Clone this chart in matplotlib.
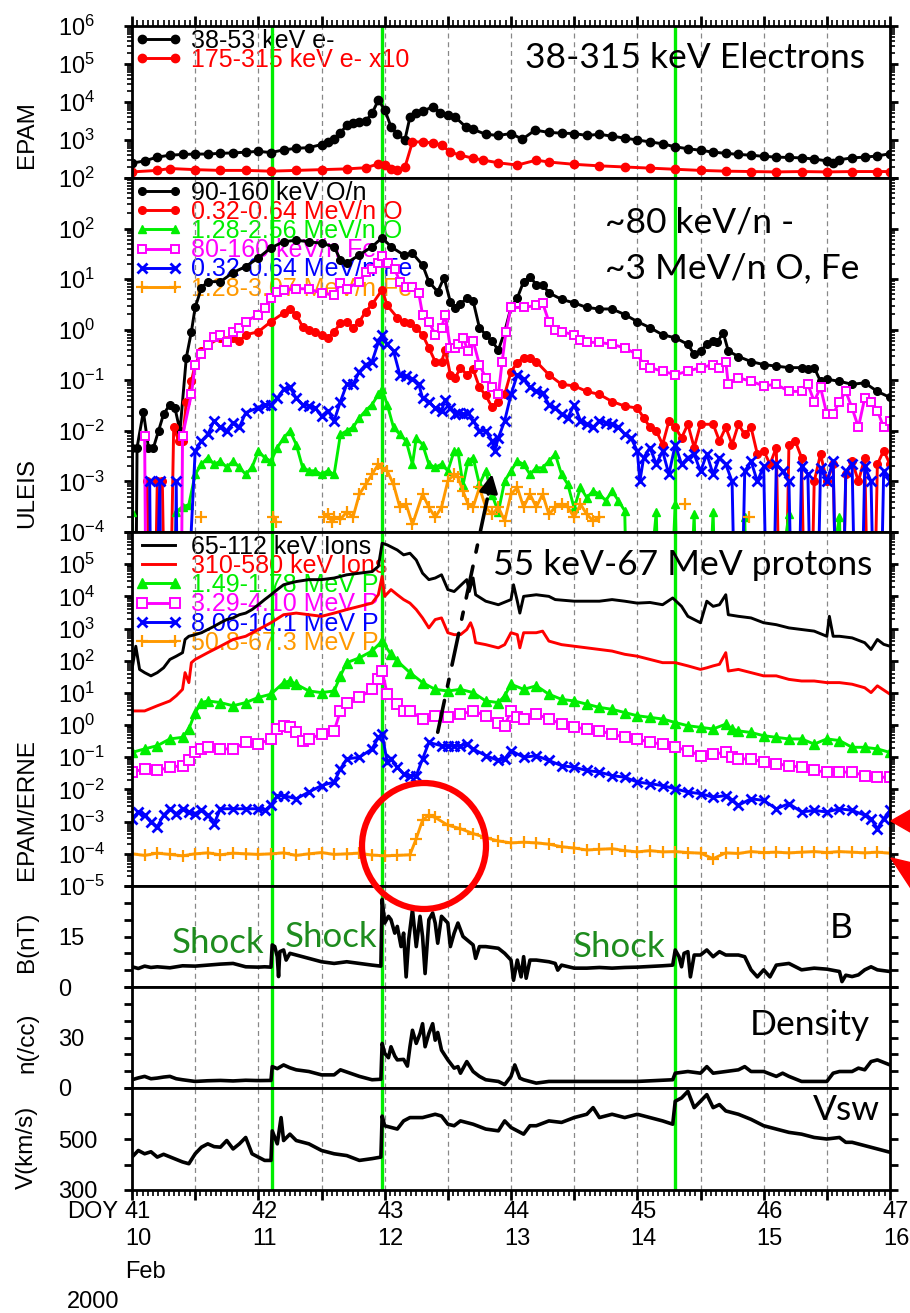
import numpy as np
import matplotlib
matplotlib.use("Agg")
import matplotlib.pyplot as plt
import matplotlib.transforms as mtransforms
from matplotlib.patches import Ellipse, Polygon, ConnectionPatch
from matplotlib.ticker import FixedLocator, FuncFormatter, NullFormatter, LogLocator, MultipleLocator

plt.rcParams['font.family'] = ['Liberation Sans', 'DejaVu Sans']
plt.rcParams['mathtext.fontset'] = 'custom'
plt.rcParams['mathtext.rm'] = 'Liberation Sans'
plt.rcParams['mathtext.it'] = 'Liberation Sans:italic'
plt.rcParams['mathtext.bf'] = 'Liberation Sans:bold'

nan = np.nan

# ---------------- EPAM electrons (log10 of flux) ----------------
t_e38 = [41.0, 41.1, 41.2, 41.3, 41.4, 41.5, 41.6, 41.7, 41.8, 41.9, 42.0, 42.1, 42.2, 42.3, 42.4,
         42.5, 42.55, 42.6, 42.65, 42.7, 42.75, 42.8, 42.85, 42.9, 42.95, 43.0, 43.05, 43.1, 43.16,
         43.2, 43.25, 43.3, 43.38, 43.44, 43.5, 43.56, 43.64, 43.7, 43.8, 43.9, 44.0, 44.09, 44.19,
         44.3, 44.4, 44.5, 44.6, 44.7, 44.8, 44.9, 45.0, 45.1, 45.2, 45.3, 45.4, 45.5, 45.6, 45.7,
         45.8, 45.9, 46.0, 46.1, 46.2, 46.3, 46.4, 46.5, 46.55, 46.6, 46.7, 46.8, 46.9, 47.0]
lg_e38 = [2.39, 2.45, 2.55, 2.6, 2.62, 2.63, 2.63, 2.65, 2.66, 2.68, 2.7, 2.67, 2.74, 2.78, 2.8,
          2.88, 2.95, 3.02, 3.18, 3.4, 3.45, 3.47, 3.5, 3.7, 4.05, 3.8, 3.35, 3.15, 3.0,
          3.6, 3.72, 3.76, 3.87, 3.72, 3.65, 3.6, 3.35, 3.28, 3.15, 3.12, 3.17, 3.02, 3.26,
          3.2, 3.18, 3.17, 3.12, 3.15, 3.1, 3.05, 3.0, 2.95, 2.9, 2.82, 2.77, 2.73, 2.68, 2.65,
          2.62, 2.6, 2.57, 2.55, 2.54, 2.53, 2.5, 2.45, 2.4, 2.48, 2.53, 2.55, 2.58, 2.64]

t_e175 = [41.0, 41.2, 41.3, 41.5, 41.7, 41.9, 42.1, 42.3, 42.5, 42.7, 42.85, 42.95, 43.0, 43.05,
          43.1, 43.16, 43.22, 43.3, 43.38, 43.45, 43.52, 43.6, 43.7, 43.78, 43.9, 44.05, 44.2,
          44.3, 44.5, 44.7, 44.9, 45.1, 45.3, 45.5, 45.7, 45.9, 46.1, 46.3, 46.5, 46.7, 46.9, 47.0]
lg_e175 = [2.16, 2.2, 2.25, 2.22, 2.2, 2.2, 2.18, 2.2, 2.22, 2.24, 2.27, 2.37, 2.35, 2.25,
           2.2, 2.28, 2.95, 2.95, 2.92, 2.87, 2.68, 2.6, 2.52, 2.47, 2.4, 2.34, 2.47,
           2.42, 2.36, 2.32, 2.29, 2.26, 2.23, 2.2, 2.18, 2.17, 2.16, 2.17, 2.16, 2.17, 2.17, 2.17]

# ---------------- ULEIS heavy ions (log10) ----------------
t_o90 = [41.0, 41.02, 41.04, 41.09, 41.13, 41.17, 41.21, 41.25, 41.3, 41.34, 41.38, 41.43, 41.47,
         41.5, 41.55, 41.6, 41.7, 41.8, 41.9, 42.0, 42.1, 42.2, 42.3, 42.4, 42.5, 42.6, 42.65,
         42.7, 42.8, 42.9, 42.98, 43.05, 43.15, 43.22, 43.3, 43.35, 43.42, 43.47, 43.52, 43.56,
         43.6, 43.65, 43.7, 43.75, 43.8, 43.85, 43.9, 43.95, 44.0, 44.05, 44.1, 44.15, 44.2, 44.25,
         44.3, 44.4, 44.5, 44.6, 44.7, 44.8, 44.9, 45.0, 45.1, 45.2, 45.3, 45.4, 45.45, 45.5,
         45.55, 45.6, 45.63, 45.68, 45.72, 45.8, 45.9, 46.0, 46.1, 46.2, 46.3, 46.35, 46.4,
         46.45, 46.5, 46.6, 46.7, 46.8, 46.9, 47.0]
lg_o90 = [-2.33, -9, -2.33, -1.62, -2.33, -2.33, -2.0, -1.67, -1.48, -1.55, -2.0, -0.55, -0.04,
          0.44, 0.83, 0.95, 0.95, 1.13, 1.25, 1.42, 1.62, 1.74, 1.77, 1.74, 1.71, 1.64, 1.38,
          1.32, 1.48, 1.64, 1.82, 1.64, 1.48, 1.51, 1.28, 0.95, 0.75, 1.03, 0.55, 0.42,
          0.5, 0.63, 0.57, 0.04, -0.1, -0.23, -0.4, -0.04, 0.44, 0.63, 0.95, 1.05, 0.89, 0.89,
          0.73, 0.6, 0.53, 0.44, 0.41, 0.41, 0.3, 0.16, 0.04, -0.1, -0.16, -0.29, -0.49, -0.42,
          -0.29, -0.22, -0.25, -0.06, -0.42, -0.53, -0.63, -0.69, -0.72, -0.75, -0.75, -0.78, -0.75,
          -1.02, -0.98, -1.02, -1.08, -1.05, -1.22, -1.34]

t_o320 = [41.12, 41.16, 41.2, 41.24, 41.28, 41.33, 41.37, 41.4, 41.43, 41.47, 41.5, 41.55, 41.6,
          41.7, 41.8, 41.85, 41.9, 42.0, 42.1, 42.2, 42.25, 42.3, 42.35, 42.4, 42.45, 42.5, 42.55,
          42.6, 42.65, 42.7, 42.75, 42.8, 42.85, 42.9, 42.98, 43.02, 43.1, 43.15, 43.2, 43.25,
          43.3, 43.35, 43.4, 43.45, 43.48, 43.52, 43.56, 43.6, 43.65, 43.7, 43.75, 43.8, 43.85,
          43.9, 43.95, 44.0, 44.05, 44.1, 44.15, 44.2, 44.3, 44.4, 44.5, 44.6, 44.7, 44.8, 44.9,
          45.0, 45.05, 45.1, 45.15, 45.2, 45.25, 45.3, 45.35, 45.4, 45.45, 45.5, 45.6, 45.65,
          45.7, 45.75, 45.8, 45.85, 45.9, 45.95, 46.0, 46.05, 46.1, 46.15, 46.2, 46.25, 46.3,
          46.35, 46.4, 46.45, 46.5, 46.55, 46.6, 46.65, 46.7, 46.75, 46.8, 46.85, 46.9, 46.95, 47.0]
lg_o320 = [-3.0, -9, -3.0, -3.0, -9, -1.93, -2.2, -2.2, -1.42, -1.02, -0.69, -0.43, -0.3,
           -0.16, -0.16, -0.23, -0.1, -0.04, 0.16, 0.33, 0.4, 0.3, 0.06, 0.0, -0.04, -0.1, -0.16,
           -0.04, 0.13, 0.16, 0.04, 0.16, 0.36, 0.5, 0.79, 0.48, 0.24, 0.16, 0.13, 0.04,
           -0.1, -0.36, -0.63, -0.63, -0.4, -0.89, -0.95, -0.75, -0.89, -0.78, -1.14, -1.3, -1.53,
           -1.42, -1.28, -0.83, -0.65, -0.55, -0.55, -0.63, -0.89, -1.08, -1.11, -1.22, -1.28, -1.42, -1.51,
           -1.55, -1.74, -1.93, -2.0, -2.27, -1.81, -1.93, -2.14, -1.87, -2.33, -1.87, -1.87, -2.2,
           -1.93, -2.27, -1.87, -2.07, -1.93, -2.46, -2.39, -2.66, -2.33, -9, -2.27, -2.2, -2.53,
           -9, -3.0, -2.46, -3.0, -2.66, -9, -2.86, -2.6, -3.0, -2.53, -9, -2.66, -2.39, -2.66]

t_o1280 = [41.0, 41.02, 41.3, 41.35, 41.4, 41.45, 41.5, 41.55, 41.6, 41.65, 41.7, 41.75, 41.8,
           41.85, 41.9, 41.95, 42.0, 42.05, 42.1, 42.15, 42.2, 42.25, 42.3, 42.35, 42.4, 42.45,
           42.5, 42.55, 42.6, 42.65, 42.7, 42.75, 42.8, 42.85, 42.9, 42.95, 42.98, 43.02, 43.07,
           43.12, 43.17, 43.22, 43.25, 43.3, 43.35, 43.4, 43.45, 43.5, 43.55, 43.58, 43.62, 43.66,
           43.7, 43.75, 43.8, 43.85, 43.9, 43.95, 44.0, 44.05, 44.1, 44.15, 44.2, 44.25, 44.3,
           44.35, 44.4, 44.45, 44.5, 44.55, 44.6, 44.65, 44.7, 44.75, 44.8, 44.85, 44.9, 44.95,
           45.15, 45.2, 45.3, 45.35, 45.45, 45.5, 45.6, 45.65, 45.85, 45.9, 46.2, 46.25, 46.6, 46.65]
lg_o1280 = [-3.6, -9, -9, -3.6, -3.5, -3.46, -2.86, -2.66, -2.53, -2.66, -2.6, -2.72, -2.6,
            -2.72, -2.86, -2.72, -2.4, -2.53, -2.6, -2.33, -2.14, -2.0, -2.27, -2.72, -2.79, -2.79,
            -2.86, -2.79, -2.86, -2.07, -2.0, -1.93, -1.74, -1.6, -1.48, -1.28, -1.18, -1.48, -1.93,
            -2.07, -2.2, -2.66, -2.14, -2.27, -2.66, -2.72, -2.66, -2.79, -2.4, -2.4, -3.07, -2.6,
            -2.53, -3.06, -2.79, -3.27, -3.6, -2.99, -2.79, -2.6, -2.66, -2.86, -2.73, -2.73, -2.6,
            -2.46, -2.86, -3.06, -3.53, -3.12, -3.32, -3.19, -3.25, -3.38, -3.19, -3.38, -3.58, -9,
            -3.6, -9, -3.45, -9, -3.65, -9, -3.6, -9, -3.7, -9, -3.65, -9, -3.7, -9]

t_fe80 = [41.1, 41.12, 41.38, 41.4, 41.47, 41.5, 41.55, 41.6, 41.65, 41.7, 41.75, 41.8, 41.85,
          41.9, 42.0, 42.05, 42.1, 42.15, 42.2, 42.3, 42.4, 42.5, 42.6, 42.65, 42.7, 42.8, 42.85,
          42.9, 42.95, 42.98, 43.03, 43.08, 43.12, 43.17, 43.22, 43.27, 43.3, 43.35, 43.4, 43.45,
          43.48, 43.52, 43.56, 43.58, 43.62, 43.66, 43.7, 43.75, 43.8, 43.85, 43.9, 43.93, 43.96,
          44.0, 44.1, 44.2, 44.25, 44.3, 44.35, 44.4, 44.5, 44.55, 44.6, 44.7, 44.8, 44.9, 45.0,
          45.05, 45.1, 45.2, 45.3, 45.4, 45.5, 45.6, 45.65, 45.7, 45.72, 45.8, 45.9, 46.0, 46.1,
          46.2, 46.3, 46.35, 46.4, 46.45, 46.5, 46.55, 46.6, 46.65, 46.7, 46.75, 46.8, 46.85,
          46.9, 46.95, 47.0]
lg_fe80 = [-2.1, -9, -9, -2.1, -1.28, -0.69, -0.49, -0.3, -0.14, -0.1, -0.25, -0.04, 0.04,
           0.16, 0.3, 0.42, 0.63, 0.75, 0.78, 0.81, 0.81, 0.72, 0.69, 0.92, 0.81, 0.95, 1.15,
           1.2, 1.32, 1.45, 1.32, 1.2, 0.95, 0.85, 0.85, 0.72, 0.3, 0.16, -0.1, 0.04,
           0.3, -0.36, -0.36, -0.29, -0.16, -0.42, -0.22, -0.69, -0.95, -1.14, -1.28, -0.63, -0.04,
           0.44, 0.44, 0.48, 0.53, 0.16, 0.0, -0.04, -0.1, -0.2, -0.25, -0.25, -0.29, -0.36, -0.49,
           -0.69, -0.75, -0.82, -0.89, -0.82, -0.75, -0.69, -0.75, -0.63, -1.08, -0.95, -1.02, -1.11, -1.08,
           -1.22, -1.22, -1.08, -1.42, -1.14, -1.67, -1.67, -1.42, -1.22, -1.55, -1.93, -1.35, -1.42,
           -1.6, -1.93, -1.81]

t_fe320 = [41.14, 41.16, 41.22, 41.24, 41.33, 41.35, 41.37, 41.5, 41.55, 41.6, 41.65, 41.7, 41.75,
           41.8, 41.85, 41.9, 42.0, 42.05, 42.1, 42.15, 42.2, 42.25, 42.3, 42.35, 42.4, 42.45,
           42.5, 42.55, 42.6, 42.65, 42.7, 42.75, 42.8, 42.85, 42.9, 42.95, 42.98, 43.02, 43.07,
           43.12, 43.17, 43.22, 43.27, 43.3, 43.35, 43.4, 43.45, 43.48, 43.52, 43.56, 43.58, 43.62,
           43.66, 43.7, 43.75, 43.8, 43.85, 43.87, 43.9, 43.95, 44.0, 44.05, 44.1, 44.15, 44.2,
           44.25, 44.3, 44.35, 44.4, 44.45, 44.5, 44.55, 44.6, 44.65, 44.7, 44.75, 44.8, 44.85,
           44.9, 44.95, 45.0, 45.02, 45.05, 45.1, 45.15, 45.2, 45.25, 45.3, 45.35, 45.4, 45.45,
           45.5, 45.55, 45.6, 45.65, 45.7, 45.75, 45.8, 45.85, 45.9, 45.95, 46.0, 46.05, 46.1,
           46.15, 46.2, 46.25, 46.3, 46.35, 46.4, 46.45, 46.5, 46.55, 46.6, 46.65, 46.7, 46.75,
           46.8, 46.85, 46.9, 46.95, 47.0]
lg_fe320 = [-3.0, -9, -3.0, -9, -9, -3.0, -9, -2.4, -2.2, -2.07, -1.8, -1.93, -2.0,
            -1.84, -1.93, -1.64, -1.54, -1.48, -1.48, -1.35, -1.18, -1.14, -1.35, -1.48, -1.5, -1.54,
            -1.71, -1.6, -1.8, -1.42, -1.08, -1.08, -0.83, -0.69, -0.63, -0.25, -0.1, -0.29, -0.42,
            -0.89, -0.92, -0.98, -1.08, -1.35, -1.42, -1.55, -1.6, -1.38, -1.55, -1.67, -1.64, -1.67,
            -1.64, -1.8, -2.0, -2.0, -2.2, -2.4, -2.14, -1.8, -1.28, -0.89, -0.98, -1.14, -1.22,
            -1.25, -1.48, -1.55, -1.67, -1.74, -1.48, -1.8, -1.87, -1.93, -1.8, -1.84, -1.87, -1.93,
            -2.07, -2.14, -2.4, -3.0, -2.53, -2.33, -2.66, -2.4, -2.86, -2.27, -2.66, -2.53, -2.46,
            -2.8, -2.46, -2.86, -2.53, -2.66, -3.0, -9, -2.8, -2.6, -3.0, -2.7, -9, -2.66,
            -2.8, -3.0, -9, -2.7, -2.86, -9, -2.73, -3.0, -2.6, -9, -2.8, -2.66, -9,
            -2.7, -3.0, -9, -2.8, -3.0]

t_fe1280 = [41.55, 41.57, 42.12, 42.14, 42.16, 42.52, 42.55, 42.58, 42.6, 42.65, 42.7, 42.75, 42.8,
            42.85, 42.9, 42.95, 42.98, 43.02, 43.07, 43.12, 43.17, 43.22, 43.3, 43.35, 43.4, 43.45,
            43.5, 43.55, 43.58, 43.62, 43.66, 43.7, 43.75, 43.8, 43.85, 43.9, 43.95, 44.0, 44.05,
            44.1, 44.15, 44.2, 44.25, 44.3, 44.35, 44.4, 44.45, 44.5, 44.55, 44.6, 44.65, 44.7,
            44.72, 45.38, 45.4, 45.88, 45.9]
lg_fe1280 = [-3.7, nan, -3.7, -3.8, nan, -3.7, -3.65, -3.8, -3.7, -3.75, -3.6, -3.7, -3.25,
             -3.06, -2.86, -2.66, -2.73, -2.79, -3.06, -3.51, -3.45, -3.85, -3.25, -3.51, -3.71, -3.51,
             -2.99, -2.86, -2.92, -3.19, -3.45, -3.51, -3.12, -3.51, -3.65, -3.51, -3.78, -3.25, -3.12,
             -3.51, -3.25, -3.51, -3.25, -3.65, -3.51, -3.45, -3.51, -3.71, -3.45, -3.65, -3.78, -3.71,
             nan, -3.45, nan, -3.7, nan]

# ---------------- EPAM / ERNE ions and protons (log10) ----------------
t_ion65 = [41.0, 41.03, 41.06, 41.1, 41.15, 41.2, 41.25, 41.3, 41.35, 41.4, 41.42, 41.45, 41.5,
           41.55, 41.6, 41.65, 41.7, 41.75, 41.8, 41.85, 41.9, 41.95, 42.0, 42.05, 42.1, 42.15,
           42.2, 42.3, 42.4, 42.5, 42.6, 42.7, 42.8, 42.9, 42.95, 42.98, 43.02, 43.1, 43.15, 43.2,
           43.25, 43.3, 43.35, 43.4, 43.45, 43.5, 43.55, 43.58, 43.62, 43.65, 43.67, 43.7, 43.72,
           43.8, 43.9, 44.0, 44.02, 44.05, 44.07, 44.1, 44.2, 44.3, 44.35, 44.5, 44.7, 44.8, 44.9,
           45.0, 45.1, 45.2, 45.28, 45.35, 45.4, 45.45, 45.5, 45.55, 45.6, 45.65, 45.7, 45.72,
           45.8, 45.9, 46.0, 46.1, 46.2, 46.3, 46.4, 46.5, 46.52, 46.55, 46.6, 46.7, 46.8, 46.85,
           46.9, 46.95, 47.0]
lg_ion65 = [1.73, 2.45, 1.73, 1.63, 1.53, 1.63, 1.78, 2.04, 2.14, 2.25, 2.66, 2.76, 2.81,
            2.87, 2.97, 3.07, 3.18, 3.28, 3.33, 3.43, 3.48, 3.59, 3.74, 3.9, 4.05, 4.21,
            4.36, 4.46, 4.52, 4.52, 4.57, 4.67, 4.72, 4.77, 4.93, 5.65, 5.6, 5.44, 5.29, 5.34,
            5.13, 4.72, 4.52, 4.57, 4.67, 4.21, 4.15, 4.26, 4.41, 4.52, 4.15, 4.57, 4.05,
            3.85, 3.74, 3.9, 4.36, 3.85, 3.48, 4.0, 4.05, 4.0, 3.9, 3.85, 3.85, 3.9, 3.85,
            3.79, 3.81, 3.74, 3.95, 3.69, 3.38, 3.28, 3.18, 3.85, 3.69, 3.74, 4.05, 3.43,
            3.38, 3.33, 3.18, 3.12, 3.02, 2.97, 2.92, 2.76, 3.38, 2.76, 2.76, 2.71, 2.56, 2.35,
            2.66, 2.51, 2.45]

t_ion310 = [41.0, 41.1, 41.2, 41.3, 41.35, 41.4, 41.42, 41.45, 41.47, 41.5, 41.6, 41.7, 41.8,
            41.9, 42.0, 42.1, 42.2, 42.3, 42.4, 42.5, 42.6, 42.7, 42.8, 42.9, 42.95, 42.98, 43.0,
            43.05, 43.1, 43.15, 43.2, 43.25, 43.3, 43.35, 43.4, 43.45, 43.5, 43.55, 43.6, 43.65,
            43.68, 43.7, 43.72, 43.8, 43.9, 43.95, 44.0, 44.05, 44.07, 44.1, 44.2, 44.25, 44.3,
            44.4, 44.5, 44.6, 44.7, 44.8, 44.9, 45.0, 45.1, 45.2, 45.3, 45.4, 45.5, 45.55, 45.6,
            45.65, 45.7, 45.72, 45.8, 45.9, 46.0, 46.1, 46.2, 46.3, 46.4, 46.5, 46.6, 46.7, 46.8,
            46.85, 46.9, 47.0]
lg_ion310 = [0.44, 0.44, 0.6, 0.75, 0.91, 1.11, 1.63, 1.32, 1.94, 2.04, 2.25, 2.45, 2.66,
             2.76, 2.97, 3.18, 3.43, 3.48, 3.43, 3.38, 3.48, 3.59, 3.69, 3.79, 4.05, 4.62, 4.0,
             4.21, 4.05, 3.9, 3.79, 3.59, 3.33, 3.02, 3.28, 3.33, 2.87, 2.81, 2.81, 2.97,
             3.18, 2.97, 2.56, 2.5, 2.4, 2.5, 2.87, 2.81, 2.4, 2.87, 2.87, 2.92, 2.61,
             2.5, 2.45, 2.4, 2.35, 2.3, 2.2, 2.14, 2.04, 1.94, 1.94, 1.84, 1.73, 1.78, 1.84,
             1.89, 2.25, 1.68, 1.73, 1.63, 1.53, 1.53, 1.42, 1.37, 1.37, 1.32, 1.32, 1.27, 1.16,
             1.01, 1.22, 0.96]

t_p1490 = [41.0, 41.1, 41.2, 41.3, 41.4, 41.45, 41.5, 41.55, 41.6, 41.7, 41.8, 41.9, 42.0, 42.1,
           42.2, 42.25, 42.3, 42.4, 42.5, 42.6, 42.65, 42.7, 42.8, 42.9, 42.98, 43.05, 43.1, 43.2,
           43.3, 43.4, 43.5, 43.6, 43.7, 43.8, 43.9, 43.95, 44.0, 44.1, 44.2, 44.3, 44.4, 44.5,
           44.6, 44.7, 44.8, 44.9, 45.0, 45.1, 45.2, 45.3, 45.4, 45.5, 45.6, 45.7, 45.75, 45.8,
           45.9, 46.0, 46.1, 46.2, 46.3, 46.4, 46.5, 46.6, 46.7, 46.8, 46.9, 47.0]
lg_p1490 = [-0.85, -0.74, -0.64, -0.43, -0.38, -0.12, 0.39, 0.7, 0.75, 0.7, 0.6, 0.7, 0.86, 0.96,
            1.32, 1.37, 1.27, 1.06, 1.01, 1.06, 1.53, 1.94, 2.09, 2.3, 2.61, 2.2, 1.99, 1.63,
            1.32, 1.11, 1.06, 1.11, 1.01, 0.75, 0.7, 0.91, 1.27, 1.11, 1.22, 0.96, 0.8, 0.75,
            0.65, 0.55, 0.49, 0.39, 0.29, 0.24, 0.19, 0.08, -0.02, -0.07, -0.12, 0.03, -0.12, -0.18,
            -0.23, -0.33, -0.38, -0.43, -0.43, -0.59, -0.43, -0.48, -0.69, -0.69, -0.74, -0.85]

t_p3290 = [41.0, 41.1, 41.2, 41.3, 41.4, 41.45, 41.5, 41.55, 41.6, 41.7, 41.8, 41.9, 42.0, 42.1,
           42.15, 42.2, 42.25, 42.3, 42.35, 42.4, 42.5, 42.6, 42.65, 42.7, 42.8, 42.9, 42.95,
           42.98, 43.02, 43.1, 43.15, 43.2, 43.3, 43.4, 43.5, 43.6, 43.7, 43.8, 43.9, 43.95, 44.0,
           44.05, 44.1, 44.2, 44.3, 44.4, 44.5, 44.6, 44.7, 44.8, 44.9, 45.0, 45.1, 45.2, 45.3,
           45.4, 45.5, 45.6, 45.7, 45.75, 45.8, 45.9, 46.0, 46.1, 46.2, 46.3, 46.4, 46.5, 46.6,
           46.7, 46.8, 46.9, 47.0]
lg_p3290 = [-1.46, -1.36, -1.41, -1.31, -1.26, -1.1, -0.85, -0.74, -0.69, -0.74, -0.74, -0.54, -0.59, -0.43,
            -0.12, -0.02, -0.07, -0.23, -0.48, -0.43, -0.28, -0.18, 0.44, 0.7, 0.86, 1.11, 1.42,
            1.68, 0.96, 0.65, 0.44, 0.44, 0.19, 0.29, 0.24, 0.34, 0.44, 0.29, 0.08, -0.02, 0.44,
            0.24, 0.19, 0.34, 0.19, 0.03, -0.07, -0.12, -0.18, -0.28, -0.38, -0.43, -0.54, -0.59, -0.69,
            -0.79, -0.95, -0.9, -0.85, -1.0, -1.05, -1.05, -1.15, -1.2, -1.26, -1.31, -1.41, -1.46, -1.46,
            -1.46, -1.57, -1.62, -1.62]

t_p8060 = [41.0, 41.05, 41.1, 41.15, 41.2, 41.25, 41.3, 41.35, 41.4, 41.45, 41.5, 41.55, 41.6,
           41.65, 41.7, 41.8, 41.9, 42.0, 42.05, 42.1, 42.15, 42.2, 42.3, 42.4, 42.5, 42.6, 42.65,
           42.7, 42.8, 42.9, 42.95, 42.98, 43.02, 43.05, 43.1, 43.15, 43.2, 43.25, 43.3, 43.35,
           43.45, 43.5, 43.55, 43.6, 43.65, 43.7, 43.8, 43.9, 43.95, 44.0, 44.1, 44.2, 44.3, 44.4,
           44.5, 44.6, 44.7, 44.8, 44.9, 45.0, 45.1, 45.2, 45.3, 45.4, 45.5, 45.6, 45.7, 45.75,
           45.8, 45.9, 46.0, 46.1, 46.2, 46.3, 46.4, 46.5, 46.6, 46.7, 46.8, 46.85, 46.9, 46.95, 47.0]
lg_p8060 = [-2.91, -2.7, -2.8, -3.01, -3.16, -2.8, -2.6, -2.75, -2.6, -2.7, -2.75, -2.65, -2.8,
            -3.06, -2.6, -2.6, -2.6, -2.6, -2.65, -2.49, -2.19, -2.19, -2.29, -2.08, -1.88, -1.77, -1.36,
            -1.05, -1.0, -0.74, -0.38, -0.28, -1.15, -1.05, -1.31, -1.52, -1.57, -1.57, -1.05, -0.54,
            -0.64, -0.64, -0.64, -0.64, -0.59, -0.74, -0.95, -1.1, -1.05, -0.79, -1.0, -0.95, -1.1, -1.26,
            -1.31, -1.41, -1.46, -1.57, -1.62, -1.77, -1.82, -1.88, -1.98, -2.08, -2.13, -2.24, -2.19, -2.34,
            -2.49, -2.29, -2.34, -2.6, -2.44, -2.7, -2.65, -2.7, -2.6, -2.65, -2.8, -2.91, -3.22, -2.91, -2.65]

t_p50800 = [41.0, 41.1, 41.2, 41.3, 41.4, 41.5, 41.6, 41.7, 41.8, 41.9, 42.0, 42.1, 42.2, 42.3,
            42.4, 42.5, 42.6, 42.7, 42.8, 42.9, 43.0, 43.1, 43.2, 43.25, 43.3, 43.35, 43.4, 43.5,
            43.6, 43.7, 43.8, 43.9, 44.0, 44.1, 44.2, 44.3, 44.4, 44.5, 44.6, 44.7, 44.8, 44.9,
            45.0, 45.1, 45.2, 45.3, 45.4, 45.5, 45.6, 45.7, 45.8, 45.9, 46.0, 46.1, 46.2, 46.3,
            46.4, 46.5, 46.6, 46.7, 46.8, 46.9, 47.0]
lg_p50800 = [-4.0, -4.05, -3.98, -4.02, -4.06, -4.0, -3.97, -4.03, -3.98, -4.0, -4.02, -4.0, -3.97, -4.05,
             -4.0, -3.96, -4.02, -4.0, -3.98, -4.04, -4.06, -4.05, -4.03, -3.53, -2.95, -2.8, -2.87, -3.11,
             -3.22, -3.37, -3.5, -3.6, -3.66, -3.64, -3.66, -3.7, -3.78, -3.82, -3.88, -3.86, -3.84, -3.9,
             -3.94, -3.9, -3.94, -3.93, -3.96, -3.98, -4.15, -3.97, -3.99, -3.93, -3.96, -3.95, -3.97, -3.95,
             -3.93, -3.96, -3.93, -3.95, -3.97, -3.95, -3.98]

# ---------------- solar wind ----------------
t_b = [41.0, 41.05, 41.1, 41.15, 41.2, 41.3, 41.4, 41.5, 41.6, 41.7, 41.8, 41.85, 41.9, 42.0, 42.05,
       42.1, 42.11, 42.13, 42.15, 42.16, 42.17, 42.2, 42.22, 42.25, 42.3, 42.4, 42.5, 42.6, 42.7,
       42.8, 42.9, 42.97, 42.98, 43.0, 43.03, 43.05, 43.08, 43.1, 43.13, 43.15, 43.17, 43.19, 43.2,
       43.22, 43.25, 43.28, 43.3, 43.32, 43.35, 43.38, 43.4, 43.42, 43.45, 43.5, 43.52, 43.55,
       43.58, 43.62, 43.7, 43.72, 43.75, 43.8, 43.9, 43.95, 44.0, 44.02, 44.05, 44.08, 44.1, 44.12,
       44.15, 44.2, 44.3, 44.35, 44.37, 44.4, 44.5, 44.6, 44.7, 44.8, 44.9, 45.0, 45.1, 45.2, 45.28,
       45.3, 45.33, 45.35, 45.37, 45.4, 45.42, 45.45, 45.5, 45.55, 45.6, 45.65, 45.7, 45.8, 45.85,
       45.9, 45.95, 46.0, 46.05, 46.1, 46.2, 46.3, 46.4, 46.5, 46.6, 46.62, 46.65, 46.7, 46.75,
       46.8, 46.85, 46.9, 47.0]
b_nt = [6.0, 5.5, 6.2, 5.8, 6.0, 5.7, 6.3, 6.2, 6.5, 6.8, 7.0, 6.5, 6.0, 5.9, 6.0,
        5.9, 12.5, 12.0, 9.0, 3.1, 10.5, 11.0, 8.0, 10.0, 9.5, 8.5, 7.5, 7.0, 7.5,
        7.0, 6.5, 6.2, 26.0, 19.0, 21.0, 20.0, 16.0, 18.0, 12.0, 16.0, 3.0, 14.0, 17.0,
        23.0, 12.0, 21.0, 15.0, 4.0, 20.0, 22.0, 19.0, 13.0, 21.0, 19.0, 12.0, 16.0,
        19.0, 15.0, 12.5, 8.5, 12.0, 12.0, 11.5, 10.0, 8.0, 2.0, 8.0, 3.0, 9.0, 2.6,
        8.0, 8.0, 7.5, 7.0, 5.0, 6.5, 5.6, 5.6, 5.8, 5.6, 5.8, 5.9, 6.1, 6.3, 6.5,
        11.0, 9.0, 6.0, 10.0, 10.5, 3.0, 9.5, 9.5, 11.0, 9.0, 10.5, 9.5, 9.5, 9.0,
        5.1, 3.0, 5.1, 3.0, 6.5, 7.0, 5.1, 5.6, 5.3, 4.6, 1.6, 3.5, 3.1, 3.6,
        5.1, 6.0, 5.1, 4.6]

t_n = [41.0, 41.05, 41.1, 41.15, 41.2, 41.25, 41.3, 41.35, 41.4, 41.5, 41.6, 41.7, 41.8, 41.9, 42.0,
       42.1, 42.11, 42.15, 42.2, 42.25, 42.3, 42.4, 42.5, 42.6, 42.65, 42.7, 42.8, 42.9, 42.97,
       42.98, 43.0, 43.03, 43.05, 43.08, 43.1, 43.15, 43.18, 43.2, 43.22, 43.25, 43.28, 43.3,
       43.32, 43.35, 43.38, 43.4, 43.42, 43.45, 43.5, 43.55, 43.58, 43.6, 43.65, 43.7, 43.75,
       43.8, 43.9, 43.95, 44.0, 44.03, 44.07, 44.1, 44.2, 44.3, 44.5, 44.7, 45.0, 45.28, 45.3,
       45.4, 45.5, 45.55, 45.6, 45.7, 45.8, 45.85, 45.9, 46.0, 46.1, 46.15, 46.2, 46.3, 46.4,
       46.5, 46.55, 46.6, 46.7, 46.75, 46.8, 46.85, 46.9, 47.0]
n_cc = [4.9, 6.0, 6.9, 5.5, 5.9, 6.5, 6.9, 5.5, 4.9, 3.9, 4.3, 4.5, 4.2, 4.6, 4.4,
        4.5, 12.7, 11.5, 13.7, 12.0, 10.8, 9.8, 7.8, 7.8, 10.8, 9.5, 6.9, 4.9, 5.2,
        26.5, 20.6, 18.0, 24.5, 19.0, 16.7, 17.0, 13.0, 24.5, 34.3, 26.5, 32.4, 38.2,
        24.5, 32.4, 38.2, 28.4, 33.0, 22.5, 16.7, 11.8, 12.7, 8.8, 15.7, 9.8, 6.9,
        4.9, 3.9, 2.0, 6.9, 13.7, 5.9, 4.9, 2.9, 3.9, 3.9, 3.9, 3.9, 4.9, 8.8,
        9.8, 8.8, 12.7, 8.8, 9.8, 10.8, 12.7, 9.8, 9.8, 6.9, 8.8, 6.9, 3.9, 3.9,
        3.9, 8.8, 9.8, 9.8, 11.8, 10.8, 15.7, 16.7, 13.7]

t_v = [41.0, 41.05, 41.1, 41.15, 41.2, 41.25, 41.3, 41.35, 41.4, 41.45, 41.5, 41.55, 41.6, 41.65,
       41.7, 41.75, 41.8, 41.85, 41.9, 41.95, 42.0, 42.05, 42.1, 42.11, 42.15, 42.18, 42.2, 42.25,
       42.3, 42.4, 42.5, 42.6, 42.7, 42.8, 42.9, 42.97, 42.98, 43.0, 43.1, 43.15, 43.2, 43.3,
       43.4, 43.45, 43.5, 43.55, 43.6, 43.7, 43.8, 43.9, 43.95, 44.0, 44.1, 44.15, 44.2, 44.3,
       44.4, 44.5, 44.6, 44.65, 44.7, 44.8, 44.9, 45.0, 45.1, 45.2, 45.28, 45.3, 45.35, 45.4,
       45.45, 45.5, 45.55, 45.6, 45.65, 45.7, 45.8, 45.9, 46.0, 46.1, 46.2, 46.3, 46.4, 46.5,
       46.6, 46.65, 46.7, 46.8, 46.9, 47.0]
v_sw = [429, 455, 442, 450, 429, 440, 430, 420, 410, 403, 442, 468, 481, 470,
        468, 494, 461, 481, 506, 442, 429, 416, 416, 532, 481, 584, 494, 519,
        494, 481, 455, 442, 435, 416, 423, 429, 590, 552, 539, 571, 584, 584,
        597, 590, 558, 552, 571, 558, 539, 532, 571, 545, 519, 552, 552, 571,
        565, 584, 597, 623, 584, 597, 584, 597, 584, 571, 558, 648, 661, 687,
        623, 648, 674, 623, 635, 610, 597, 577, 552, 539, 526, 519, 506, 500,
        506, 487, 487, 474, 461, 448]

shock_doy = [42.11, 42.98, 45.30]

W, H = 910, 1313


def px(x, y):
    return (x / W, 1 - y / H)


fig = plt.figure(figsize=(W / 100, H / 100), dpi=100)
gs = fig.add_gridspec(6, 1, height_ratios=[152, 354, 354, 101, 101, 102], hspace=0,
                      left=132 / W, right=890 / W, top=1 - 26 / H, bottom=1 - 1190 / H)
axs = [fig.add_subplot(gs[0])]
for i in range(1, 6):
    axs.append(fig.add_subplot(gs[i], sharex=axs[0]))

TICKFS = 17
LEGFS = 18
LABEL_PAD = 47


def log_axis(ax, lo, hi, hide_top):
    ax.set_yscale('log')
    ax.set_ylim(10.0 ** lo, 10.0 ** hi)
    ax.yaxis.set_major_locator(FixedLocator([10.0 ** k for k in range(lo, hi + 1)]))
    ax.yaxis.set_minor_locator(LogLocator(base=10, subs=np.arange(2, 10), numticks=100))
    ax.yaxis.set_minor_formatter(NullFormatter())

    def fmt(v, p):
        k = int(round(np.log10(v)))
        if hide_top and k == hi:
            return ''
        return r'$10^{%d}$' % k
    ax.yaxis.set_major_formatter(FuncFormatter(fmt))
    ax.tick_params(axis='y', which='major', length=6, width=2)
    ax.tick_params(axis='y', which='minor', length=3.5, width=1.2)


def lin_axis(ax, lo, hi, labels, step):
    ax.set_ylim(lo, hi)
    ax.yaxis.set_major_locator(FixedLocator(labels))
    ax.yaxis.set_minor_locator(MultipleLocator(step))
    ax.tick_params(axis='y', which='both', length=6, width=2)


def lg(v):
    return 10.0 ** np.asarray(v, dtype=float)


lw = 2.1
# panel 1
ax = axs[0]
h1 = [ax.plot(t_e38, lg(lg_e38), '-o', color='black', ms=6, lw=lw)[0],
      ax.plot(t_e175, lg(lg_e175), '-o', color='red', ms=6, lw=lw)[0]]
log_axis(ax, 2, 6, False)
labels1 = ['38-53 keV e-', '175-315 keV e- x10']
cols1 = ['black', 'red']

# panel 2
ax = axs[1]
h2 = [ax.plot(t_o90, lg(lg_o90), '-o', color='black', ms=5.5, lw=lw)[0],
      ax.plot(t_o320, lg(lg_o320), '-o', color='red', ms=5.5, lw=lw)[0],
      ax.plot(t_o1280, lg(lg_o1280), '-^', color='#00ee00', ms=5.5, lw=lw)[0],
      ax.plot(t_fe80, lg(lg_fe80), '-s', color='magenta', ms=6, mfc='white', mew=1.4, lw=lw)[0],
      ax.plot(t_fe320, lg(lg_fe320), '-x', color='blue', ms=6.5, mew=2, lw=lw)[0],
      ax.plot(t_fe1280, lg(lg_fe1280), '-+', color='#ff9900', ms=9, mew=1.6, lw=lw)[0]]
log_axis(ax, -4, 3, True)
labels2 = ['90-160 keV O/n', '0.32-0.64 MeV/n O', '1.28-2.56 MeV/n O', '80-160 keV/n Fe',
           '0.32-0.64 MeV/n Fe', '1.28-3.07 MeV/n Fe']
cols2 = ['black', 'red', '#00ee00', 'magenta', 'blue', '#ff9900']

# panel 3
ax = axs[2]
h3 = [ax.plot(t_ion65, lg(lg_ion65), '-', color='black', lw=lw)[0],
      ax.plot(t_ion310, lg(lg_ion310), '-', color='red', lw=lw)[0],
      ax.plot(t_p1490, lg(lg_p1490), '-^', color='#00ee00', ms=6.5, lw=lw)[0],
      ax.plot(t_p3290, lg(lg_p3290), '-s', color='magenta', ms=6.5, mfc='white', mew=1.4, lw=lw)[0],
      ax.plot(t_p8060, lg(lg_p8060), '-x', color='blue', ms=7.5, mew=2, lw=lw)[0],
      ax.plot(t_p50800, lg(lg_p50800), '-+', color='#ff9900', ms=9, mew=1.6, lw=lw)[0]]
log_axis(ax, -5, 6, True)
labels3 = ['65-112 keV Ions', '310-580 keV Ions', '1.49-1.78 MeV P', '3.29-4.10 MeV P',
           '8.06-10.1 MeV P', '50.8-67.3 MeV P']
cols3 = cols2

# panels 4-6
axs[3].plot(t_b, b_nt, color='black', lw=2.6)
lin_axis(axs[3], 0, 30, [0, 15], 5)
axs[4].plot(t_n, n_cc, color='black', lw=2.6)
lin_axis(axs[4], 0, 60, [0, 30], 10)
axs[5].plot(t_v, v_sw, color='black', lw=2.6)
lin_axis(axs[5], 300, 700, [300, 500], 100)

for ax in axs:
    ax.set_xlim(41, 47)
    ax.xaxis.set_major_locator(MultipleLocator(0.5))
    ax.xaxis.set_minor_locator(MultipleLocator(1 / 24))
    ax.grid(axis='x', which='major', color='#888888', ls=(0, (4, 3)), lw=0.9)
    for s in ax.spines.values():
        s.set_linewidth(2)
    for d in shock_doy:
        ax.axvline(d, color='#00ee00', lw=2.4, zorder=1.5)
    ax.tick_params(axis='x', which='both', bottom=False, top=False, labelbottom=False,
                   labeltop=False, direction='out')
    ax.tick_params(axis='y', which='both', direction='out', left=True, right=True,
                   labelsize=TICKFS, pad=LABEL_PAD)

axs[0].tick_params(axis='x', which='major', top=True, length=7, width=2)
axs[0].tick_params(axis='x', which='minor', top=True, length=4, width=1.2)
axs[5].tick_params(axis='x', which='major', bottom=True, labelbottom=True, length=7, width=2,
                   labelsize=TICKFS, pad=1)
axs[5].tick_params(axis='x', which='minor', bottom=True, length=4, width=1.2)


def xfmt(v, p):
    d = int(round(v))
    if abs(v - d) > 1e-6:
        return ''
    return '%d\n%d' % (d, d - 31)


axs[5].xaxis.set_major_formatter(FuncFormatter(xfmt))

shift = mtransforms.ScaledTranslation(6 / 100, 0, fig.dpi_scale_trans)
for lbl in axs[5].get_xticklabels():
    lbl.set_linespacing(1.3)
    lbl.set_transform(lbl.get_transform() + shift)
for ax in axs:
    for lbl in ax.get_yticklabels():
        lbl.set_horizontalalignment('left')


def add_legend(ax, handles, labels, cols):
    leg = ax.legend(handles, labels, loc='upper left', bbox_to_anchor=(0, 1), frameon=False,
                    fontsize=LEGFS, handlelength=1.9, handletextpad=0.35, labelspacing=-0.19,
                    borderaxespad=0.0, borderpad=0.1, numpoints=2)
    for t, c in zip(leg.get_texts(), cols):
        t.set_color(c)
    leg.set_zorder(1)


add_legend(axs[0], h1, labels1, cols1)
add_legend(axs[1], h2, labels2, cols2)
add_legend(axs[2], h3, labels3, cols3)

# y titles
for txt, yc in [('EPAM', 135), ('ULEIS', 493), ('EPAM/ERNE', 810), ('B(nT)', 942),
                ('n(/cc)', 1043), ('V(km/s)', 1147)]:
    fig.text(*px(27, yc), txt, rotation=90, ha='center', va='center', fontsize=17.5)

fig.text(*px(67, 1212), 'DOY', ha='left', va='center', fontsize=TICKFS)
fig.text(*px(125, 1272), 'Feb', ha='left', va='center', fontsize=TICKFS)
fig.text(*px(67, 1302), '2000', ha='left', va='center', fontsize=TICKFS)

# panel annotations
ANN = dict(family=['Lato', 'DejaVu Sans'], fontsize=25.5)
fig.text(*px(525, 58), '38-315 keV Electrons', ha='left', va='center', **ANN)
fig.text(*px(605, 222), '~80 keV/n -', ha='left', va='center', **ANN)
fig.text(*px(605, 268), '~3 MeV/n O, Fe', ha='left', va='center', **ANN)
fig.text(*px(493, 565), '55 keV-67 MeV protons', ha='left', va='center', **ANN)
fig.text(*px(830, 928), 'B', ha='left', va='center', **ANN)
fig.text(*px(750, 1025), 'Density', ha='left', va='center', **ANN)
fig.text(*px(813, 1110), 'Vsw', ha='left', va='center', **ANN)
SHK = dict(family=['Lato', 'DejaVu Sans'], fontsize=25, color='#1e8c1e')
fig.text(*px(172, 943), 'Shock', ha='left', va='center', **SHK)
fig.text(*px(285, 937), 'Shock', ha='left', va='center', **SHK)
fig.text(*px(573, 947), 'Shock', ha='left', va='center', **SHK)

# dash-dot arrow from the proton onset back up to the ULEIS panel
con = ConnectionPatch(xyA=(43.42, 0.6), coordsA=axs[2].transData,
                      xyB=(43.82, 5.6e-4), coordsB=axs[1].transData,
                      color='black', lw=2.6, linestyle=(0, (9, 4, 2, 4)), zorder=20)
fig.add_artist(con)
axs[1].annotate('', xy=(43.85, 1.4e-3), xytext=(43.82, 5.6e-4), annotation_clip=False,
                arrowprops=dict(arrowstyle='-|>,head_length=0.55,head_width=0.28', color='black',
                                lw=2.4, mutation_scale=20, shrinkA=0, shrinkB=0), zorder=20)

# red circle and edge markers
fig.add_artist(Ellipse(px(424, 846), 124 / W, 126 / H, transform=fig.transFigure, fill=False,
                       ec='red', lw=4.5, zorder=30))
fig.add_artist(Polygon([px(891, 821), px(912, 809), px(912, 833)], closed=True,
                       transform=fig.transFigure, color='red', zorder=30))
fig.add_artist(Polygon([px(891, 858), px(912, 863), px(912, 890)], closed=True,
                       transform=fig.transFigure, color='red', zorder=30))

fig.savefig('out.png', dpi=100)
